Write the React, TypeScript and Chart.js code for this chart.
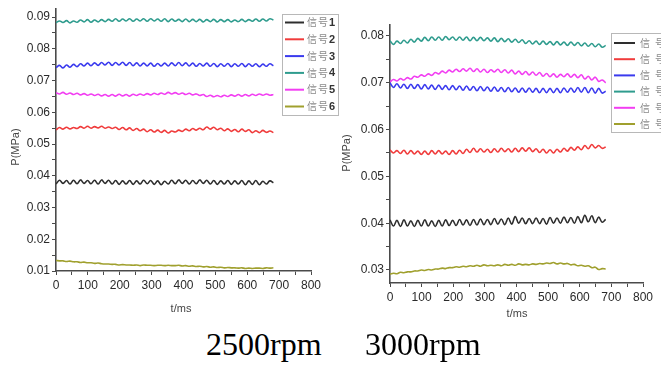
import React, { useEffect, useRef } from "react";
import { Chart, registerables } from "chart.js";

Chart.register(...registerables);

// ---------- DATA ----------
const timeMs = [
  0, 11, 22, 33, 44, 55, 66, 77, 88, 99,
  110, 121, 132, 143, 154, 165, 176, 187, 198, 209,
  220, 231, 242, 253, 264, 275, 286, 297, 308, 319,
  330, 341, 352, 363, 374, 385, 396, 407, 418, 429,
  440, 451, 462, 473, 484, 495, 506, 517, 528, 539,
  550, 561, 572, 583, 594, 605, 616, 627, 638, 649,
  660, 671, 682,
];

const seriesLabels = ["信号1", "信号2", "信号3", "信号4", "信号5", "信号6"];
const seriesColors = ["#2e2e2e", "#f03c3c", "#3a3aee", "#2f9c8e", "#f23ef2", "#a0a02e"];

const xTicksMin = 0;
const xTicksMax = 800;

// 2500 rpm (MPa)
const s1_2500 = [
  0.0374, 0.0386, 0.0376, 0.0385, 0.0374, 0.0386, 0.0375, 0.0387, 0.0376, 0.0385,
  0.0375, 0.0386, 0.0374, 0.0387, 0.0376, 0.0386, 0.0374, 0.0385, 0.0373, 0.0384,
  0.0374, 0.0385, 0.0373, 0.0384, 0.0374, 0.0386, 0.0375, 0.0385, 0.0373, 0.0384,
  0.0372, 0.0383, 0.0374, 0.0386, 0.0375, 0.0387, 0.0376, 0.0386, 0.0374, 0.0385,
  0.0375, 0.0387, 0.0376, 0.0386, 0.0374, 0.0385, 0.0373, 0.0384, 0.0374, 0.0385,
  0.0373, 0.0384, 0.0374, 0.0385, 0.0372, 0.0384, 0.0373, 0.0385, 0.0372, 0.0383,
  0.0374, 0.0384, 0.0378,
];
const s2_2500 = [
  0.0545, 0.0552, 0.0547, 0.0553, 0.0548, 0.0552, 0.0549, 0.0555, 0.0550, 0.0556,
  0.0550, 0.0555, 0.0551, 0.0556, 0.0550, 0.0554, 0.0549, 0.0553, 0.0546, 0.0552,
  0.0545, 0.0551, 0.0543, 0.0549, 0.0542, 0.0547, 0.0539, 0.0545, 0.0538, 0.0544,
  0.0537, 0.0543, 0.0535, 0.0541, 0.0538, 0.0544, 0.0540, 0.0547, 0.0542, 0.0549,
  0.0544, 0.0550, 0.0545, 0.0554, 0.0547, 0.0553, 0.0545, 0.0550, 0.0542, 0.0548,
  0.0540, 0.0546, 0.0539, 0.0547, 0.0540, 0.0545, 0.0536, 0.0542, 0.0536, 0.0543,
  0.0537, 0.0541, 0.0536,
];
const s3_2500 = [
  0.0741, 0.0748, 0.0740, 0.0749, 0.0742, 0.0751, 0.0744, 0.0753, 0.0746, 0.0755,
  0.0747, 0.0756, 0.0748, 0.0757, 0.0749, 0.0758, 0.0748, 0.0757, 0.0749, 0.0758,
  0.0748, 0.0757, 0.0747, 0.0756, 0.0746, 0.0755, 0.0746, 0.0755, 0.0745, 0.0754,
  0.0746, 0.0755, 0.0746, 0.0756, 0.0747, 0.0757, 0.0747, 0.0756, 0.0746, 0.0755,
  0.0745, 0.0754, 0.0746, 0.0755, 0.0745, 0.0754, 0.0744, 0.0753, 0.0745, 0.0754,
  0.0744, 0.0753, 0.0745, 0.0754, 0.0744, 0.0753, 0.0745, 0.0753, 0.0744, 0.0752,
  0.0745, 0.0753, 0.0747,
];
const s4_2500 = [
  0.0882, 0.0888, 0.0883, 0.0889, 0.0882, 0.0888, 0.0884, 0.0891, 0.0885, 0.0892,
  0.0884, 0.0891, 0.0885, 0.0892, 0.0886, 0.0893, 0.0887, 0.0895, 0.0887, 0.0894,
  0.0888, 0.0895, 0.0887, 0.0894, 0.0888, 0.0895, 0.0887, 0.0895, 0.0888, 0.0894,
  0.0887, 0.0895, 0.0886, 0.0894, 0.0887, 0.0893, 0.0886, 0.0894, 0.0886, 0.0893,
  0.0886, 0.0893, 0.0885, 0.0892, 0.0886, 0.0893, 0.0885, 0.0892, 0.0886, 0.0892,
  0.0885, 0.0891, 0.0886, 0.0893, 0.0886, 0.0892, 0.0887, 0.0894, 0.0887, 0.0894,
  0.0888, 0.0895, 0.0891,
];
const s5_2500 = [
  0.0662, 0.0658, 0.0663, 0.0657, 0.0661, 0.0656, 0.0660, 0.0655, 0.0659, 0.0654,
  0.0658, 0.0653, 0.0657, 0.0652, 0.0656, 0.0651, 0.0656, 0.0651, 0.0657, 0.0652,
  0.0656, 0.0651, 0.0657, 0.0653, 0.0658, 0.0654, 0.0659, 0.0655, 0.0660, 0.0656,
  0.0661, 0.0657, 0.0663, 0.0658, 0.0662, 0.0657, 0.0661, 0.0656, 0.0660, 0.0655,
  0.0658, 0.0653, 0.0656, 0.0650, 0.0654, 0.0649, 0.0653, 0.0649, 0.0654, 0.0650,
  0.0655, 0.0651, 0.0656, 0.0651, 0.0656, 0.0652, 0.0657, 0.0653, 0.0658, 0.0654,
  0.0658, 0.0654, 0.0656,
];
const s6_2500 = [
  0.0133, 0.0132, 0.0132, 0.0130, 0.0131, 0.0129, 0.0129, 0.0127, 0.0128, 0.0126,
  0.0126, 0.0124, 0.0125, 0.0123, 0.0122, 0.0122, 0.0121, 0.0121, 0.0119, 0.0120,
  0.0119, 0.0119, 0.0118, 0.0119, 0.0117, 0.0119, 0.0118, 0.0118, 0.0117, 0.0118,
  0.0118, 0.0117, 0.0118, 0.0117, 0.0117, 0.0118, 0.0116, 0.0117, 0.0115, 0.0116,
  0.0114, 0.0115, 0.0113, 0.0114, 0.0112, 0.0113, 0.0111, 0.0112, 0.0110, 0.0111,
  0.0110, 0.0110, 0.0109, 0.0110, 0.0108, 0.0109, 0.0108, 0.0109, 0.0109, 0.0108,
  0.0110, 0.0109, 0.0110,
];

// 3000 rpm (MPa)
const s1_3000 = [
  0.0407, 0.0394, 0.0406, 0.0393, 0.0407, 0.0394, 0.0405, 0.0393, 0.0406, 0.0394,
  0.0407, 0.0394, 0.0405, 0.0393, 0.0406, 0.0394, 0.0407, 0.0395, 0.0406, 0.0395,
  0.0408, 0.0396, 0.0407, 0.0395, 0.0408, 0.0396, 0.0409, 0.0397, 0.0408, 0.0397,
  0.0410, 0.0398, 0.0409, 0.0397, 0.0411, 0.0398, 0.0414, 0.0400, 0.0411, 0.0399,
  0.0410, 0.0399, 0.0411, 0.0399, 0.0410, 0.0398, 0.0412, 0.0400, 0.0411, 0.0400,
  0.0413, 0.0401, 0.0412, 0.0400, 0.0414, 0.0401, 0.0417, 0.0403, 0.0416, 0.0401,
  0.0413, 0.0402, 0.0408,
];
const s2_3000 = [
  0.0557, 0.0550, 0.0555, 0.0549, 0.0556, 0.0548, 0.0555, 0.0548, 0.0554, 0.0547,
  0.0554, 0.0547, 0.0555, 0.0548, 0.0555, 0.0548, 0.0554, 0.0547, 0.0555, 0.0548,
  0.0556, 0.0549, 0.0558, 0.0551, 0.0560, 0.0552, 0.0559, 0.0552, 0.0558, 0.0551,
  0.0559, 0.0552, 0.0560, 0.0553, 0.0559, 0.0552, 0.0560, 0.0553, 0.0561, 0.0554,
  0.0561, 0.0553, 0.0559, 0.0551, 0.0558, 0.0550, 0.0557, 0.0550, 0.0558, 0.0552,
  0.0560, 0.0554, 0.0562, 0.0556, 0.0563, 0.0557, 0.0566, 0.0559, 0.0568, 0.0561,
  0.0566, 0.0560, 0.0563,
];
const s3_3000 = [
  0.0700, 0.0690, 0.0698, 0.0689, 0.0697, 0.0688, 0.0697, 0.0688, 0.0696, 0.0687,
  0.0696, 0.0687, 0.0695, 0.0686, 0.0695, 0.0686, 0.0694, 0.0685, 0.0694, 0.0685,
  0.0693, 0.0684, 0.0693, 0.0684, 0.0692, 0.0683, 0.0692, 0.0683, 0.0691, 0.0682,
  0.0691, 0.0682, 0.0690, 0.0681, 0.0690, 0.0681, 0.0689, 0.0680, 0.0689, 0.0680,
  0.0689, 0.0680, 0.0688, 0.0679, 0.0688, 0.0679, 0.0688, 0.0679, 0.0688, 0.0679,
  0.0689, 0.0680, 0.0689, 0.0680, 0.0690, 0.0680, 0.0690, 0.0679, 0.0689, 0.0678,
  0.0688, 0.0678, 0.0682,
];
const s4_3000 = [
  0.0790, 0.0782, 0.0789, 0.0784, 0.0791, 0.0785, 0.0793, 0.0787, 0.0795, 0.0789,
  0.0797, 0.0790, 0.0798, 0.0791, 0.0798, 0.0791, 0.0799, 0.0792, 0.0798, 0.0791,
  0.0798, 0.0791, 0.0798, 0.0790, 0.0797, 0.0790, 0.0797, 0.0790, 0.0796, 0.0789,
  0.0796, 0.0788, 0.0795, 0.0788, 0.0794, 0.0787, 0.0793, 0.0786, 0.0792, 0.0784,
  0.0790, 0.0783, 0.0789, 0.0782, 0.0789, 0.0782, 0.0788, 0.0781, 0.0788, 0.0781,
  0.0787, 0.0780, 0.0787, 0.0780, 0.0786, 0.0779, 0.0785, 0.0778, 0.0784, 0.0777,
  0.0783, 0.0776, 0.0780,
];
const s5_3000 = [
  0.0702, 0.0707, 0.0704, 0.0709, 0.0706, 0.0711, 0.0708, 0.0714, 0.0712, 0.0717,
  0.0714, 0.0719, 0.0716, 0.0722, 0.0719, 0.0725, 0.0721, 0.0727, 0.0723, 0.0729,
  0.0724, 0.0730, 0.0725, 0.0731, 0.0724, 0.0730, 0.0723, 0.0729, 0.0722, 0.0728,
  0.0723, 0.0729, 0.0722, 0.0728, 0.0721, 0.0727, 0.0719, 0.0725, 0.0718, 0.0724,
  0.0717, 0.0723, 0.0716, 0.0722, 0.0714, 0.0720, 0.0713, 0.0719, 0.0712, 0.0718,
  0.0713, 0.0719, 0.0712, 0.0718, 0.0711, 0.0717, 0.0708, 0.0714, 0.0706, 0.0712,
  0.0703, 0.0706, 0.0700,
];
const s6_3000 = [
  0.0291, 0.0293, 0.0292, 0.0295, 0.0294, 0.0296, 0.0296, 0.0298, 0.0298, 0.0300,
  0.0299, 0.0301, 0.0300, 0.0302, 0.0302, 0.0304, 0.0303, 0.0305, 0.0305, 0.0307,
  0.0306, 0.0308, 0.0307, 0.0309, 0.0308, 0.0310, 0.0308, 0.0311, 0.0309, 0.0310,
  0.0309, 0.0311, 0.0309, 0.0312, 0.0310, 0.0312, 0.0310, 0.0313, 0.0311, 0.0312,
  0.0311, 0.0313, 0.0312, 0.0314, 0.0313, 0.0315, 0.0314, 0.0316, 0.0313, 0.0315,
  0.0313, 0.0314, 0.0311, 0.0312, 0.0309, 0.0310, 0.0308, 0.0309, 0.0305, 0.0306,
  0.0301, 0.0303, 0.0302,
];

const captionLeft = "2500rpm";
const captionRight = "3000rpm";
const xTitle = "t/ms";
const yTitle = "P(MPa)";

// ---------- STYLE ----------
const NARROW = "'Liberation Sans Narrow', 'Liberation Sans', Arial, sans-serif";
const AXIS_COLOR = "#4a4a4a";
const TEXT_COLOR = "#2a2a2a";

const decorPlugin = {
  id: "decor",
  afterDraw(chart: any, _args: any, o: any) {
    const ctx = chart.ctx;
    ctx.save();
    ctx.fillStyle = "#444";
    ctx.font = `11px ${NARROW}`;
    ctx.textAlign = "center";
    ctx.textBaseline = "middle";
    ctx.fillText(o.xTitle, o.xTitleX, o.xTitleY);
    ctx.save();
    ctx.translate(o.yTitleX, o.yTitleY);
    ctx.rotate(-Math.PI / 2);
    ctx.fillText(o.yTitle, 0, 0);
    ctx.restore();

    // legend box
    const L = o.legend;
    ctx.fillStyle = "#ffffff";
    ctx.fillRect(L.x, L.y, L.w, L.h);
    ctx.strokeStyle = "#b8b8b8";
    ctx.lineWidth = 1;
    ctx.strokeRect(L.x + 0.5, L.y + 0.5, L.w, L.h);
    const dsets = chart.data.datasets;
    dsets.forEach((ds: any, i: number) => {
      const y = L.row0 + i * L.rowH;
      ctx.strokeStyle = ds.borderColor;
      ctx.lineWidth = 2;
      ctx.beginPath();
      ctx.moveTo(L.lineX1, y);
      ctx.lineTo(L.lineX2, y);
      ctx.stroke();
      const label: string = ds.label;
      ctx.textAlign = "left";
      ctx.textBaseline = "middle";
      ctx.fillStyle = "#8a8a8a";
      ctx.font = `10px 'Noto Sans CJK SC', sans-serif`;
      ctx.fillText(label.charAt(0), L.c1X, y);
      ctx.fillText(label.charAt(1), L.c2X, y);
      ctx.fillStyle = "#333";
      ctx.font = `bold 11px ${NARROW}`;
      ctx.fillText(label.slice(2), L.dX, y + 0.5);
    });
    ctx.restore();
  },
};

function makeConfig(series: number[][], p: any) {
  const datasets = series.map((vals, i) => ({
    label: seriesLabels[i],
    data: vals.map((v, k) => ({ x: timeMs[k], y: v })),
    borderColor: seriesColors[i],
    backgroundColor: seriesColors[i],
    borderWidth: 1.6,
    pointRadius: 0,
    tension: 0.4,
    fill: false,
  }));
  return {
    type: "line" as const,
    data: { datasets },
    options: {
      animation: false,
      responsive: false,
      maintainAspectRatio: false,
      layout: { padding: { top: p.top, right: p.right, left: 0, bottom: 0 } },
      plugins: {
        legend: { display: false },
        tooltip: { enabled: false },
        decor: p.decor,
      },
      scales: {
        x: {
          type: "linear",
          min: xTicksMin,
          max: xTicksMax,
          afterFit: (s: any) => {
            s.height = p.xH;
          },
          ticks: {
            stepSize: 50,
            includeBounds: false,
            autoSkip: false,
            maxRotation: 0,
            padding: 3,
            color: TEXT_COLOR,
            font: { family: NARROW, size: 12 },
            callback: (v: number) => (Math.round(v) % 100 === 0 ? String(Math.round(v)) : ""),
          },
          grid: { drawOnChartArea: false, drawTicks: true, tickLength: 4, color: AXIS_COLOR, tickWidth: 1 },
          border: { display: true, color: AXIS_COLOR, width: 1.6 },
        },
        y: {
          type: "linear",
          min: p.yMin,
          max: p.yMax,
          afterFit: (s: any) => {
            s.width = p.yW;
          },
          ticks: {
            stepSize: 0.005,
            includeBounds: false,
            autoSkip: false,
            padding: 2,
            color: TEXT_COLOR,
            font: { family: NARROW, size: 12 },
            callback: (v: number) =>
              Math.abs(Math.round(v * 100) - v * 100) < 1e-6 ? v.toFixed(2) : "",
          },
          grid: { drawOnChartArea: false, drawTicks: true, tickLength: 4, color: AXIS_COLOR, tickWidth: 1 },
          border: { display: true, color: AXIS_COLOR, width: 1.6 },
        },
      },
    },
    plugins: [decorPlugin],
  };
}

export default function App() {
  const leftRef = useRef<HTMLCanvasElement>(null);
  const rightRef = useRef<HTMLCanvasElement>(null);

  useEffect(() => {
    const left = new Chart(
      leftRef.current as HTMLCanvasElement,
      makeConfig([s1_2500, s2_2500, s3_2500, s4_2500, s5_2500, s6_2500], {
        top: 8,
        right: 29,
        xH: 49,
        yW: 56,
        yMin: 0.01,
        yMax: 0.0925,
        decor: {
          xTitle,
          yTitle,
          xTitleX: 181,
          xTitleY: 309,
          yTitleX: 16,
          yTitleY: 147,
          legend: {
            x: 282, y: 14, w: 56, h: 101,
            row0: 22.5, rowH: 16.8,
            lineX1: 285, lineX2: 304, c1X: 307, c2X: 318, dX: 329,
          },
        },
      }) as any
    );
    const right = new Chart(
      rightRef.current as HTMLCanvasElement,
      makeConfig([s1_3000, s2_3000, s3_3000, s4_3000, s5_3000, s6_3000], {
        top: 25,
        right: 77,
        xH: 47,
        yW: 50,
        yMin: 0.02722,
        yMax: 0.08235,
        decor: {
          xTitle,
          yTitle,
          xTitleX: 177,
          xTitleY: 314,
          yTitleX: 7,
          yTitleY: 153,
          legend: {
            x: 271, y: 33, w: 62, h: 99,
            row0: 43, rowH: 16.2,
            lineX1: 274, lineX2: 295, c1X: 300, c2X: 315, dX: 327,
          },
        },
      }) as any
    );
    return () => {
      left.destroy();
      right.destroy();
    };
  }, []);

  const capStyle: React.CSSProperties = {
    position: "absolute",
    top: 328,
    fontFamily: "'Liberation Serif', 'Times New Roman', serif",
    fontSize: 32,
    lineHeight: "32px",
    color: "#000",
    whiteSpace: "nowrap",
  };

  return (
    <div
      style={{
        position: "absolute",
        left: 0,
        top: 0,
        width: 661,
        height: 369,
        overflow: "hidden",
        background: "#fff",
      }}
    >
      <canvas ref={leftRef} width={340} height={320} style={{ position: "absolute", left: 0, top: 0 }} />
      <canvas ref={rightRef} width={380} height={330} style={{ position: "absolute", left: 340, top: 0 }} />
      <div style={{ ...capStyle, left: 206 }}>{captionLeft}</div>
      <div style={{ ...capStyle, left: 365 }}>{captionRight}</div>
    </div>
  );
}
